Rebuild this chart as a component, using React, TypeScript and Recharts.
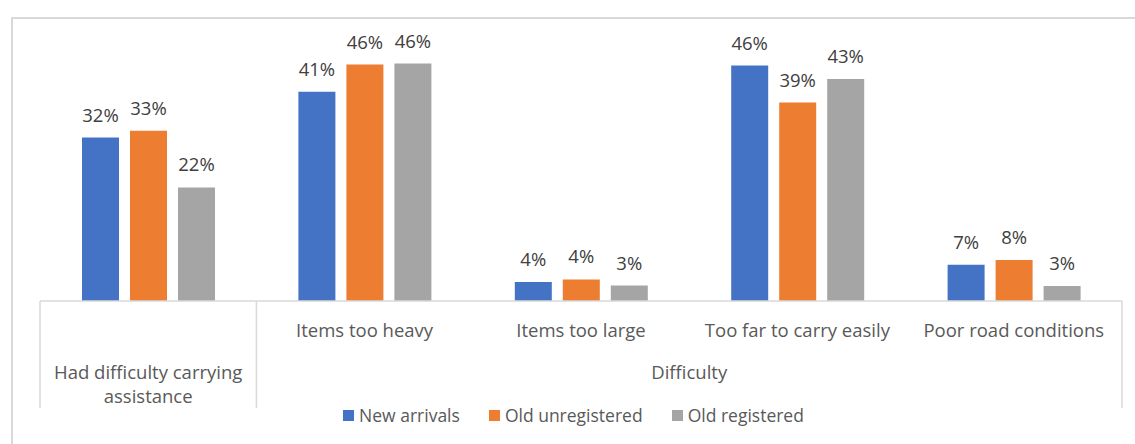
import { BarChart, Bar, XAxis, YAxis, LabelList } from 'recharts';

const categories = ['', 'Items too heavy', 'Items too large', 'Too far to carry easily', 'Poor road conditions'];
const newArrivals = [31.8, 40.7, 3.7, 45.8, 7.05];
const oldUnregistered = [33.1, 46.0, 4.2, 38.6, 8.0];
const oldRegistered = [22.1, 46.2, 3.0, 43.2, 2.9];

const groups = [
  { label: 'Had difficulty carrying\nassistance', start: 0, end: 0 },
  { label: 'Difficulty', start: 1, end: 4 },
];

const series = [
  { key: 'newArrivals', name: 'New arrivals', color: '#4472c4' },
  { key: 'oldUnregistered', name: 'Old unregistered', color: '#ed7d31' },
  { key: 'oldRegistered', name: 'Old registered', color: '#a5a5a5' },
];

const data = categories.map((label, i) => ({
  label,
  newArrivals: newArrivals[i],
  oldUnregistered: oldUnregistered[i],
  oldRegistered: oldRegistered[i],
}));

const W = 1135;
const H = 444;
const MARGIN = { top: 44, right: 13, left: 40, bottom: 33 };
const AXIS_H = 110;
const AXIS_Y = H - MARGIN.bottom - AXIS_H;
const BAND = (W - MARGIN.left - MARGIN.right) / categories.length;
const FONT = '"Open Sans", sans-serif';
const FS = 18.5;
const TEXT = '#595959';
const LINE = '#d9d9d9';

const CategoryTick = ({ x, payload, index }: any) => {
  const left = x - BAND / 2;
  const right = x + BAND / 2;
  const startsGroup = groups.find(g => g.start === index);
  const isLast = index === categories.length - 1;
  const gx = startsGroup ? left + ((startsGroup.end - startsGroup.start + 1) * BAND) / 2 : 0;
  return (
    <g>
      <text x={x} y={AXIS_Y + 28} textAnchor="middle" dominantBaseline="central"
        fontFamily={FONT} fontSize={FS} fill={TEXT}>
        {payload.value}
      </text>
      {startsGroup && (
        <line x1={left} x2={left} y1={AXIS_Y} y2={AXIS_Y + 107} stroke={LINE} strokeWidth={1.5} />
      )}
      {isLast && (
        <line x1={right} x2={right} y1={AXIS_Y} y2={AXIS_Y + 107} stroke={LINE} strokeWidth={1.5} />
      )}
      {startsGroup && (
        <text x={gx} y={AXIS_Y + 70} textAnchor="middle" dominantBaseline="central"
          fontFamily={FONT} fontSize={FS} fill={TEXT}>
          {startsGroup.label.split('\n').map((ln, i) => (
            <tspan key={i} x={gx} dy={i === 0 ? 0 : 24}>
              {ln}
            </tspan>
          ))}
        </text>
      )}
    </g>
  );
};

export default function App() {
  return (
    <div style={{ position: 'absolute', left: 0, top: 0, width: W, height: H, overflow: 'hidden', background: '#fff' }}>
      <div style={{
        position: 'absolute', left: 11, top: 17, width: W + 50, height: H + 50,
        borderLeft: `2px solid ${LINE}`, borderTop: `2px solid ${LINE}`,
      }} />
      <div style={{ position: 'absolute', left: 0, top: 0 }}>
        <BarChart width={W} height={H} data={data} margin={MARGIN} barCategoryGap={42} barGap={11}>
          <XAxis dataKey="label" interval={0} height={AXIS_H} tickLine={false}
            axisLine={{ stroke: LINE, strokeWidth: 1.5 }} tick={<CategoryTick />} />
          <YAxis hide domain={[0, 50]} />
          {series.map(s => (
            <Bar key={s.key} dataKey={s.key} name={s.name} fill={s.color} isAnimationActive={false}>
              <LabelList dataKey={s.key} position="top" offset={16}
                formatter={(v: any) => `${Math.round(Number(v))}%`}
                style={{ fontFamily: FONT, fontSize: FS, fill: '#404040' }} />
            </Bar>
          ))}
        </BarChart>
      </div>
      <div style={{
        position: 'absolute', left: 0, top: 402, width: W, display: 'flex', justifyContent: 'center',
        fontFamily: FONT, fontSize: 17.5, color: TEXT, paddingLeft: 6, lineHeight: '26px',
      }}>
        {series.map((s, i) => (
          <div key={s.key} style={{ display: 'flex', alignItems: 'center', marginRight: i < series.length - 1 ? 29 : 0 }}>
            <span style={{ width: 11, height: 11, background: s.color, marginRight: 5, display: 'inline-block' }} />
            <span>{s.name}</span>
          </div>
        ))}
      </div>
    </div>
  );
}
